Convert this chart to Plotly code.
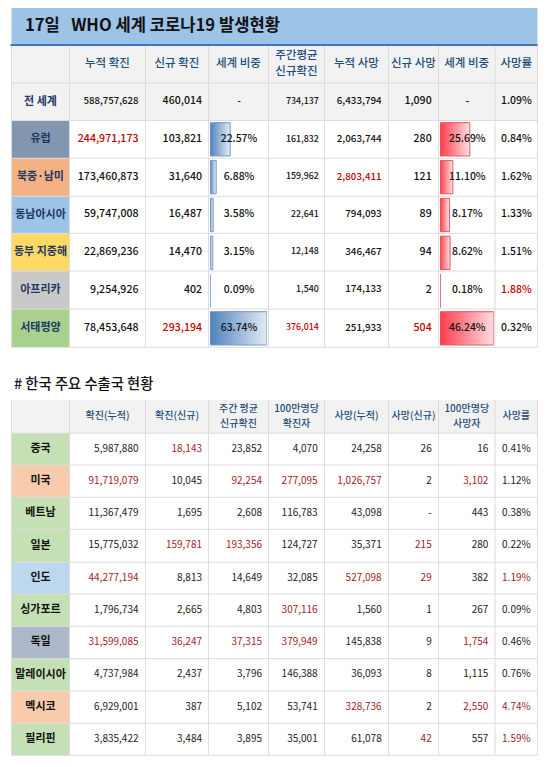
import plotly.graph_objects as go

# ---------- data: WHO table ----------
title_text = "17일   WHO 세계 코로나19 발생현황"
world_headers = ["누적 확진", "신규 확진", "세계 비중", "주간평균\n신규확진", "누적 사망", "신규 사망", "세계 비중", "사망률"]
world_labels = ["전 세계", "유럽", "북중·남미", "동남아시아", "동부 지중해", "아프리카", "서태평양"]
world_label_fills = ["#f2f2f2", "#8497b0", "#f4b183", "#9dc3e6", "#ffd966", "#c9c9c9", "#a9d18e"]
total_cases = ["588,757,628", "244,971,173", "173,460,873", "59,747,008", "22,869,236", "9,254,926", "78,453,648"]
new_cases = ["460,014", "103,821", "31,640", "16,487", "14,470", "402", "293,194"]
weekly_avg = ["734,137", "161,832", "159,962", "22,641", "12,148", "1,540", "376,014"]
total_deaths = ["6,433,794", "2,063,744", "2,803,411", "794,093", "346,467", "174,133", "251,933"]
new_deaths = ["1,090", "280", "121", "89", "94", "2", "504"]
fatality = ["1.09%", "0.84%", "1.62%", "1.33%", "1.51%", "1.88%", "0.32%"]
region_names = world_labels[1:]
case_share = [22.57, 6.88, 3.58, 3.15, 0.09, 63.74]
death_share = [25.69, 11.10, 8.17, 8.62, 0.18, 46.24]
world_red = {"total_cases": [1], "new_cases": [6], "weekly_avg": [6], "total_deaths": [2], "new_deaths": [6], "fatality": [5]}

# ---------- data: export partner table ----------
sub_title = "# 한국 주요 수출국 현황"
kr_headers = ["확진(누적)", "확진(신규)", "주간 평균\n신규확진", "100만명당\n확진자", "사망(누적)", "사망(신규)", "100만명당\n사망자", "사망률"]
countries = ["중국", "미국", "베트남", "일본", "인도", "싱가포르", "독일", "말레이시아", "멕시코", "필리핀"]
country_fills = ["#c5e0b4", "#f8cbad", "#c5e0b4", "#c5e0b4", "#bdd7ee", "#c5e0b4", "#adb9ca", "#c5e0b4", "#f8cbad", "#c5e0b4"]
kr_total = ["5,987,880", "91,719,079", "11,367,479", "15,775,032", "44,277,194", "1,796,734", "31,599,085", "4,737,984", "6,929,001", "3,835,422"]
kr_new = ["18,143", "10,045", "1,695", "159,781", "8,813", "2,665", "36,247", "2,437", "387", "3,484"]
kr_weekly = ["23,852", "92,254", "2,608", "193,356", "14,649", "4,803", "37,315", "3,796", "5,102", "3,895"]
kr_per_m = ["4,070", "277,095", "116,783", "124,727", "32,085", "307,116", "379,949", "146,388", "53,741", "35,001"]
kr_deaths = ["24,258", "1,026,757", "43,098", "35,371", "527,098", "1,560", "145,838", "36,093", "328,736", "61,078"]
kr_new_deaths = ["26", "2", "-", "215", "29", "1", "9", "8", "2", "42"]
kr_deaths_per_m = ["16", "3,102", "443", "280", "382", "267", "1,754", "1,115", "2,550", "557"]
kr_fatality = ["0.41%", "1.12%", "0.38%", "0.22%", "1.19%", "0.09%", "0.46%", "0.76%", "4.74%", "1.59%"]
kr_red = {"total": [1, 4, 6], "new": [0, 3, 6], "weekly": [1, 3, 6], "per_m": [1, 5, 6], "deaths": [1, 4, 8],
          "new_deaths": [3, 4, 9], "deaths_per_m": [1, 6, 8], "fatality": [4, 8, 9]}

# ---------- layout constants (pixels) ----------
W, H = 550, 767
FONT = "Noto Sans CJK KR"
HEAD_BLUE = "#1f4e79"
NAVY = "#1f3864"
RED1 = "#c00000"
RED2 = "#a01c2c"
GRID = "#dcdcdc"
col_x = [11.5, 69.5, 145.5, 208.5, 268.5, 324.5, 388.5, 438.5, 495, 537.5]
t1_y = [46, 83, 120.5, 158.3, 196.3, 233.3, 271, 309, 347.3]
t2_y = [400, 433.3, 465, 497.3, 529.3, 562.3, 594, 626.3, 658.7, 691, 723.3, 755.3]
N_SLICES = 24


def px(x):
    return x / W


def py(y):
    return 1 - y / H


def rect(x0, y0, x1, y1, fill):
    return dict(type="rect", xref="paper", yref="paper", layer="below", x0=px(x0), x1=px(x1),
                y0=py(y1), y1=py(y0), fillcolor=fill, line_width=0)


def line(x0, y0, x1, y1, color=GRID, width=1):
    return dict(type="line", xref="paper", yref="paper", layer="below", x0=px(x0), x1=px(x1),
                y0=py(y0), y1=py(y1), line=dict(color=color, width=width))


shapes = [rect(11.5, 8, 537.5, 45, "#9dc3e6")]
# first table fills
shapes.append(rect(col_x[0], t1_y[0], col_x[-1], t1_y[2], "#f2f2f2"))
for i, f in enumerate(world_label_fills):
    shapes.append(rect(col_x[0], t1_y[i + 1], col_x[1], t1_y[i + 2], f))
# second table fills
shapes.append(rect(col_x[0], t2_y[0], col_x[-1], t2_y[1], "#f2f2f2"))
for i, f in enumerate(country_fills):
    shapes.append(rect(col_x[0], t2_y[i + 1], col_x[1], t2_y[i + 2], f))
# grid
for ys in (t1_y, t2_y):
    for y in ys[1:]:
        shapes.append(line(col_x[0], y, col_x[-1], y))
    for x in col_x:
        shapes.append(line(x, ys[0], x, ys[-1]))
shapes.append(line(10.5, 45, 537.5, 45, "#4472c4", 2))

fig = go.Figure()


def mix(c0, c1, t):
    return "#" + "".join(f"{round(a + (b - a) * t):02x}" for a, b in zip(c0, c1))


def add_databar(values, axis_suffix, start, end, edge):
    xa, ya = "x" + axis_suffix, "y" + axis_suffix
    # each colour band runs to the bar's end and is over-painted by the next one: no seams
    for k in range(N_SLICES):
        t = (k + 0.5) / N_SLICES
        fig.add_trace(go.Bar(
            y=region_names, x=[v * (N_SLICES - k) / N_SLICES for v in values],
            base=[v * k / N_SLICES for v in values],
            orientation="h", marker=dict(color=mix(start, end, t), line_width=0),
            width=0.88, xaxis=xa, yaxis=ya, hoverinfo="skip", showlegend=False))
    fig.add_trace(go.Bar(
        y=region_names, x=values, base=[0] * len(values), orientation="h",
        marker=dict(color="rgba(0,0,0,0)", line=dict(color=edge, width=1)),
        width=0.88, xaxis=xa, yaxis=ya, hoverinfo="skip", showlegend=False))


add_databar(case_share, "", (79, 129, 189), (226, 234, 244), "#7f9cc4")
add_databar(death_share, "2", (255, 60, 75), (255, 222, 225), "#e0606c")


def add_col(xpos, ys, texts, pos, size, colors, weight=400):
    fig.add_trace(go.Scatter(
        x=[xpos] * len(ys), y=ys, text=texts, mode="text", textposition=pos,
        textfont=dict(family=FONT, size=size, color=colors, weight=weight),
        xaxis="x3", yaxis="y3", hoverinfo="skip", showlegend=False, cliponaxis=False))


def centers(ys):
    return [(a + b) / 2 for a, b in zip(ys[:-1], ys[1:])]


def colored(texts, red_rows, red, base="#111111"):
    return [red if i in red_rows else base for i in range(len(texts))]


def add_headers(headers, y0, y1, gap, size):
    cy = (y0 + y1) / 2
    for j, h in enumerate(headers):
        cx = (col_x[j + 1] + col_x[j + 2]) / 2
        parts = h.split("\n")
        ys = [cy] if len(parts) == 1 else [cy - gap / 2, cy + gap / 2]
        add_col(cx, ys, parts, "middle center", size, HEAD_BLUE, 500)


# ---- title texts
add_col(25, [27], [title_text], "middle right", 16.6, "#111111", 700)
add_col(14, [385], [sub_title], "middle right", 14.3, "#111111", 500)

# ---- first table
add_headers(world_headers, t1_y[0], t1_y[1], 16, 11.5)
c1 = centers(t1_y[1:])
label_colors = [NAVY] * len(world_labels)
add_col((col_x[0] + col_x[1]) / 2, c1, world_labels, "middle center", 11, label_colors, 700)
add_col(138.5, c1, total_cases, "middle left", [9.6] + [10.6] * 6, colored(total_cases, world_red["total_cases"], RED1), 500)
add_col(202, c1, new_cases, "middle left", 10.6, colored(new_cases, world_red["new_cases"], RED1), 500)
add_col(239, c1, ["-"] + [f"{v:.2f}%" for v in case_share], "middle center", 10.4, "#111111", 500)
add_col(318.7, c1, weekly_avg, "middle left", 8.8, colored(weekly_avg, world_red["weekly_avg"], RED1), 500)
add_col(381.7, c1, total_deaths, "middle left", 9.8, colored(total_deaths, world_red["total_deaths"], RED1), 500)
add_col(431.7, c1, new_deaths, "middle left", 10.6, colored(new_deaths, world_red["new_deaths"], RED1), 500)
add_col(467.3, c1, ["-"] + [f"{v:.2f}%" for v in death_share], "middle center", 10.4, "#111111", 500)
add_col(531.7, c1, fatality, "middle left", 10.4, colored(fatality, world_red["fatality"], RED1), 500)

# ---- second table
add_headers(kr_headers, t2_y[0], t2_y[1], 15, 10)
c2 = centers(t2_y[1:])
add_col((col_x[0] + col_x[1]) / 2, c2, countries, "middle center", 11, "#111111", 700)
add_col(138.5, c2, kr_total, "middle left", 10, colored(kr_total, kr_red["total"], RED2, "#222222"))
add_col(202, c2, kr_new, "middle left", 10, colored(kr_new, kr_red["new"], RED2, "#222222"))
add_col(262, c2, kr_weekly, "middle left", 10, colored(kr_weekly, kr_red["weekly"], RED2, "#222222"))
add_col(317.7, c2, kr_per_m, "middle left", 10, colored(kr_per_m, kr_red["per_m"], RED2, "#222222"))
add_col(381.7, c2, kr_deaths, "middle left", 10, colored(kr_deaths, kr_red["deaths"], RED2, "#222222"))
add_col(431.7, c2, kr_new_deaths, "middle left", 10, colored(kr_new_deaths, kr_red["new_deaths"], RED2, "#222222"))
add_col(488.3, c2, kr_deaths_per_m, "middle left", 10, colored(kr_deaths_per_m, kr_red["deaths_per_m"], RED2, "#222222"))
add_col(530.7, c2, kr_fatality, "middle left", 10, colored(kr_fatality, kr_red["fatality"], RED2, "#222222"))

hidden = dict(visible=False, fixedrange=True)
bar_dom = [py(t1_y[-1]), py(t1_y[2])]
fig.update_layout(
    width=W, height=H, margin=dict(l=0, r=0, t=0, b=0, pad=0),
    paper_bgcolor="white", plot_bgcolor="rgba(0,0,0,0)", barmode="overlay", showlegend=False,
    shapes=shapes,
    xaxis=dict(domain=[px(210), px(266.7)], range=[0, max(case_share)], anchor="y", **hidden),
    yaxis=dict(domain=bar_dom, categoryorder="array", categoryarray=region_names, autorange="reversed", anchor="x", **hidden),
    xaxis2=dict(domain=[px(440), px(493.7)], range=[0, max(death_share)], anchor="y2", **hidden),
    yaxis2=dict(domain=bar_dom, categoryorder="array", categoryarray=region_names, autorange="reversed", anchor="x2", **hidden),
    xaxis3=dict(domain=[0, 1], range=[0, W], anchor="y3", **hidden),
    yaxis3=dict(domain=[0, 1], range=[H, 0], anchor="x3", **hidden),
)

fig.write_html("out.html", config={"displayModeBar": False, "responsive": False},
               post_script="document.body.style.margin='0';document.body.style.overflow='hidden';")
